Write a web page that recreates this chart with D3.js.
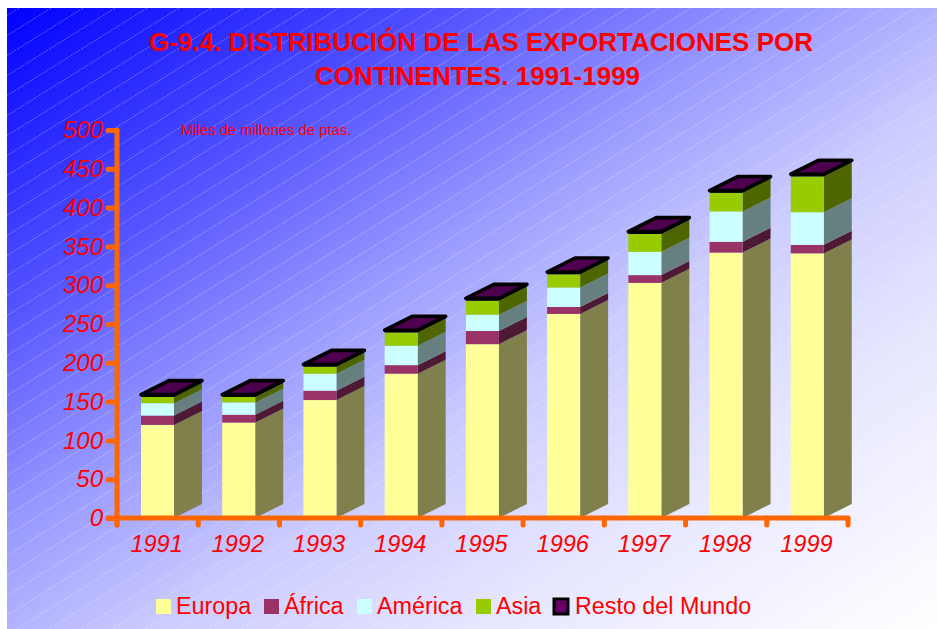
<!DOCTYPE html>
<html><head><meta charset="utf-8">
<script src="https://cdnjs.cloudflare.com/ajax/libs/d3/7.8.5/d3.min.js"></script>
<style>html,body{margin:0;padding:0;background:#fff;overflow:hidden}svg{display:block}text{font-family:"Liberation Sans",Arial,sans-serif;fill:#ff0000}</style>
</head><body><svg id="c" width="937" height="629"></svg>
<script>
const years=["1991","1992","1993","1994","1995","1996","1997","1998","1999"];
const seriesNames=["Europa","África","América","Asia","Resto del Mundo"];
const europa=[120,123,152,186,224,263,303,342,341];
const africa=[12,10,12,11,17,9,10,14,11];
const america=[16,16,22,25,21,25,30,39,42];
const asia=[8,7,9,17,18,17,23,24,46];
const resto=[3,3,3,3,3,3,3,3,3];
const yTicks=[0,50,100,150,200,250,300,350,400,450,500];
const titleLines=["G-9.4. DISTRIBUCIÓN DE LAS EXPORTACIONES POR","CONTINENTES. 1991-1999"];
const unitLabel="Miles de millones de ptas.";
const frontColors=["#FFFF99","#993366","#CCFFFF","#99CC00","#000000"];
const sideColors=["#80804D","#4D1933","#668080","#4D6600","#000000"];
const seriesValues=[europa,africa,america,asia,resto];

const svg=d3.select("#c");
const defs=svg.append("defs");
const g=defs.append("linearGradient").attr("id","bg")
 .attr("x1",0).attr("y1",0).attr("x2",1).attr("y2",1);
[[0,"#0000ff"],[.25,"#5555ff"],[.42,"#9999ff"],[.58,"#ccccff"],[.75,"#e6e6ff"],[1,"#ffffff"]]
 .forEach(s=>g.append("stop").attr("offset",s[0]).attr("stop-color",s[1]));
const p=defs.append("pattern").attr("id","hatch").attr("patternUnits","userSpaceOnUse").attr("width",32).attr("height",20);
p.append("line").attr("x1",-3.2).attr("y1",22).attr("x2",35.2).attr("y2",-2).attr("stroke","#fff").attr("stroke-width",0.7).attr("stroke-opacity",0.45).attr("stroke-dasharray","2 1");
svg.append("rect").attr("x",7).attr("y",8).attr("width",930).attr("height",621).attr("fill","url(#bg)");
svg.append("rect").attr("x",7).attr("y",8).attr("width",930).attr("height",621).attr("fill","url(#hatch)");

const x=d3.scaleBand().domain(years).range([117,848]).paddingInner(0).paddingOuter(0);
const y=d3.scaleLinear().domain([0,500]).range([518,130]);
const barW=33,barOff=24,dx=28,dy=14;

svg.selectAll("text.title").data(titleLines).join("text").attr("class","title")
 .attr("x",(d,i)=>i?477.5:481).attr("y",(d,i)=>i?85:51).attr("text-anchor","middle")
 .attr("font-size",26).attr("font-weight","bold").text(d=>d);
svg.append("text").attr("x",181).attr("y",135).attr("font-size",14.8).text(unitLabel);

years.forEach((yr,i)=>{
  const gb=svg.append("g");
  const x0=x(yr)+barOff; let acc=0;
  seriesValues.forEach((vals,s)=>{
    const y0=y(acc), y1=y(acc+vals[i]); acc+=vals[i];
    gb.append("path").attr("fill",sideColors[s])
      .attr("d",`M${x0+barW},${y0}L${x0+barW+dx},${y0-dy}L${x0+barW+dx},${y1-dy}L${x0+barW},${y1}Z`);
    gb.append("rect").attr("x",x0).attr("y",y1).attr("width",barW).attr("height",y0-y1).attr("fill",frontColors[s]);
  });
  const yt=y(acc);
  gb.append("path").attr("fill","#4D004D").attr("stroke","#000").attr("stroke-width",3.6).attr("stroke-linejoin","round")
    .attr("d",`M${x0},${yt}L${x0+barW},${yt}L${x0+barW+dx},${yt-dy}L${x0+dx},${yt-dy}Z`);
});

const ya=d3.axisLeft(y).tickValues(yTicks).tickSize(9).tickPadding(5);
const yg=svg.append("g").attr("transform","translate(117,0)").call(ya);
const xa=d3.axisBottom(x).tickSize(0).tickPadding(17);
const xg=svg.append("g").attr("transform","translate(0,518)").call(xa);
[yg,xg].forEach(a=>{a.select(".domain").remove();});
const sw=5;
yg.selectAll("line").attr("stroke","#FF6600").attr("stroke-width",sw).attr("stroke-linecap","round");
xg.selectAll("line").remove();
const edges=d3.range(years.length+1).map(i=>x.range()[0]+i*x.step());
svg.selectAll("line.xt").data(edges).join("line").attr("class","xt")
 .attr("x1",d=>d).attr("x2",d=>d).attr("y1",518).attr("y2",525)
 .attr("stroke","#FF6600").attr("stroke-width",sw).attr("stroke-linecap","round");
svg.append("line").attr("x1",117).attr("x2",117).attr("y1",y(500)).attr("y2",525).attr("stroke","#FF6600").attr("stroke-width",sw).attr("stroke-linecap","round");
svg.append("line").attr("x1",108).attr("x2",848).attr("y1",518).attr("y2",518).attr("stroke","#FF6600").attr("stroke-width",sw).attr("stroke-linecap","round");
[yg,xg].forEach(a=>a.selectAll("text").attr("font-size",24).attr("font-style","italic").attr("font-family",null).style("fill","#ff0000"));
xg.selectAll("text").attr("dx",-1).attr("font-size",23.5);

const legendX=[156,264,357,476,554];
const textX=[176,284,377,496,575];
const lg=svg.append("g");
seriesNames.forEach((n,i)=>{
  if(i<4) lg.append("rect").attr("x",legendX[i]).attr("y",599).attr("width",15).attr("height",15).attr("fill",frontColors[i]);
  else lg.append("rect").attr("x",legendX[i]).attr("y",599).attr("width",14).attr("height",15).attr("fill","#660066").attr("stroke","#000").attr("stroke-width",3);
  lg.append("text").attr("x",textX[i]).attr("y",614).attr("font-size",23.3).text(n);
});
</script></body></html>
